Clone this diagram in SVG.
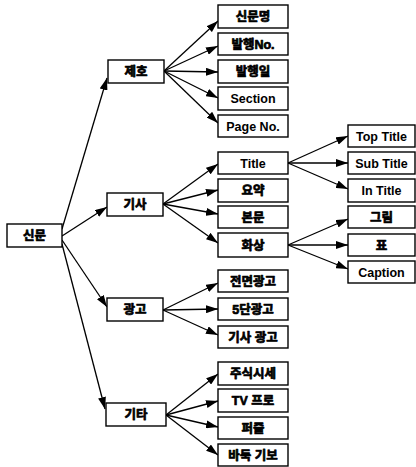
<svg xmlns="http://www.w3.org/2000/svg" width="416" height="467" viewBox="0 0 416 467">
<style>
.box{fill:#fff;stroke:#000;stroke-width:1.4}
.t{font-family:"Liberation Sans","Noto Sans CJK KR",sans-serif;font-weight:bold;font-size:12.5px;text-anchor:middle;fill:#000}
.k{stroke:#000;stroke-width:0.7;stroke-linejoin:round}
.c line{stroke:#000;stroke-width:1.3;marker-end:url(#ah)}
</style>
<defs>
<marker id="ah" markerUnits="userSpaceOnUse" markerWidth="12" markerHeight="8" refX="12" refY="4" orient="auto"><path d="M0,0 L12,4 L0,8 z" fill="#000"/></marker>
</defs>
<g class="c" id="connectors">
<line x1="62" y1="229" x2="107" y2="78"/>
<line x1="62" y1="236" x2="107" y2="207"/>
<line x1="62" y1="240" x2="107" y2="307"/>
<line x1="62" y1="244" x2="105" y2="409"/>
<line x1="164" y1="71" x2="218" y2="21"/>
<line x1="164" y1="71" x2="218" y2="46"/>
<line x1="164" y1="71" x2="218" y2="72"/>
<line x1="164" y1="71" x2="218" y2="98"/>
<line x1="164" y1="71" x2="218" y2="123"/>
<line x1="163" y1="204" x2="218" y2="164"/>
<line x1="163" y1="204" x2="218" y2="190"/>
<line x1="163" y1="204" x2="218" y2="214"/>
<line x1="163" y1="204" x2="218" y2="243"/>
<line x1="288" y1="163" x2="348" y2="136"/>
<line x1="288" y1="163" x2="348" y2="163"/>
<line x1="288" y1="163" x2="348" y2="189"/>
<line x1="288" y1="245" x2="348" y2="219"/>
<line x1="288" y1="245" x2="348" y2="245"/>
<line x1="288" y1="245" x2="348" y2="269"/>
<line x1="163" y1="310" x2="218" y2="283"/>
<line x1="163" y1="310" x2="218" y2="309"/>
<line x1="163" y1="310" x2="218" y2="335"/>
<line x1="166" y1="415" x2="218" y2="374"/>
<line x1="166" y1="415" x2="218" y2="401"/>
<line x1="166" y1="415" x2="218" y2="427"/>
<line x1="166" y1="415" x2="218" y2="455"/>
</g>
<g id="n-root"><rect class="box" x="7" y="224" width="55" height="23"/><text class="t k" x="34.5" y="240">신문</text></g>
<g id="n-jeho"><rect class="box" x="108" y="60" width="56" height="23"/><text class="t k" x="136" y="76">제호</text></g>
<g id="n-gisa"><rect class="box" x="107" y="193" width="56" height="23"/><text class="t k" x="135" y="209">기사</text></g>
<g id="n-ad"><rect class="box" x="107" y="298" width="56" height="23"/><text class="t k" x="135" y="314">광고</text></g>
<g id="n-etc"><rect class="box" x="106" y="403" width="60" height="23"/><text class="t k" x="136" y="419">기타</text></g>
<g id="n-name"><rect class="box" x="218" y="5" width="70" height="23"/><text class="t k" x="253" y="21">신문명</text></g>
<g id="n-no"><rect class="box" x="218" y="33" width="70" height="22"/><text class="t k" x="253" y="48.5">발행No.</text></g>
<g id="n-date"><rect class="box" x="218" y="60" width="70" height="23"/><text class="t k" x="253" y="76">발행일</text></g>
<g id="n-section"><rect class="box" x="218" y="87" width="70" height="23"/><text class="t" x="253" y="103">Section</text></g>
<g id="n-page"><rect class="box" x="218" y="115" width="70" height="22"/><text class="t" x="253" y="130.5">Page No.</text></g>
<g id="n-title"><rect class="box" x="218" y="152" width="70" height="22"/><text class="t" x="253" y="167.5">Title</text></g>
<g id="n-summary"><rect class="box" x="218" y="179" width="70" height="23"/><text class="t k" x="253" y="195">요약</text></g>
<g id="n-body"><rect class="box" x="218" y="206" width="70" height="22"/><text class="t k" x="253" y="221.5">본문</text></g>
<g id="n-image"><rect class="box" x="218" y="233" width="70" height="24"/><text class="t k" x="253" y="249.5">화상</text></g>
<g id="n-top"><rect class="box" x="348" y="125" width="67" height="22"/><text class="t" x="381.5" y="140.5">Top Title</text></g>
<g id="n-sub"><rect class="box" x="348" y="152" width="67" height="22"/><text class="t" x="381.5" y="167.5">Sub Title</text></g>
<g id="n-in"><rect class="box" x="348" y="179" width="67" height="23"/><text class="t" x="381.5" y="195">In Title</text></g>
<g id="n-pic"><rect class="box" x="348" y="206" width="67" height="22"/><text class="t k" x="381.5" y="221.5">그림</text></g>
<g id="n-table"><rect class="box" x="348" y="234" width="67" height="22"/><text class="t k" x="381.5" y="249.5">표</text></g>
<g id="n-caption"><rect class="box" x="348" y="261" width="67" height="22"/><text class="t" x="381.5" y="276.5">Caption</text></g>
<g id="n-fullad"><rect class="box" x="218" y="270" width="70" height="22"/><text class="t k" x="253" y="285.5">전면광고</text></g>
<g id="n-5ad"><rect class="box" x="218" y="298" width="70" height="22"/><text class="t k" x="253" y="313.5">5단광고</text></g>
<g id="n-artad"><rect class="box" x="218" y="326" width="70" height="22"/><text class="t k" x="253" y="341.5">기사 광고</text></g>
<g id="n-stock"><rect class="box" x="218" y="362" width="70" height="23"/><text class="t k" x="253" y="378">주식시세</text></g>
<g id="n-tv"><rect class="box" x="218" y="389" width="70" height="23"/><text class="t k" x="253" y="405">TV 프로</text></g>
<g id="n-puzzle"><rect class="box" x="218" y="417" width="70" height="22"/><text class="t k" x="253" y="432.5">퍼즐</text></g>
<g id="n-baduk"><rect class="box" x="218" y="444" width="70" height="22"/><text class="t k" x="253" y="459.5">바둑 기보</text></g>
</svg>
